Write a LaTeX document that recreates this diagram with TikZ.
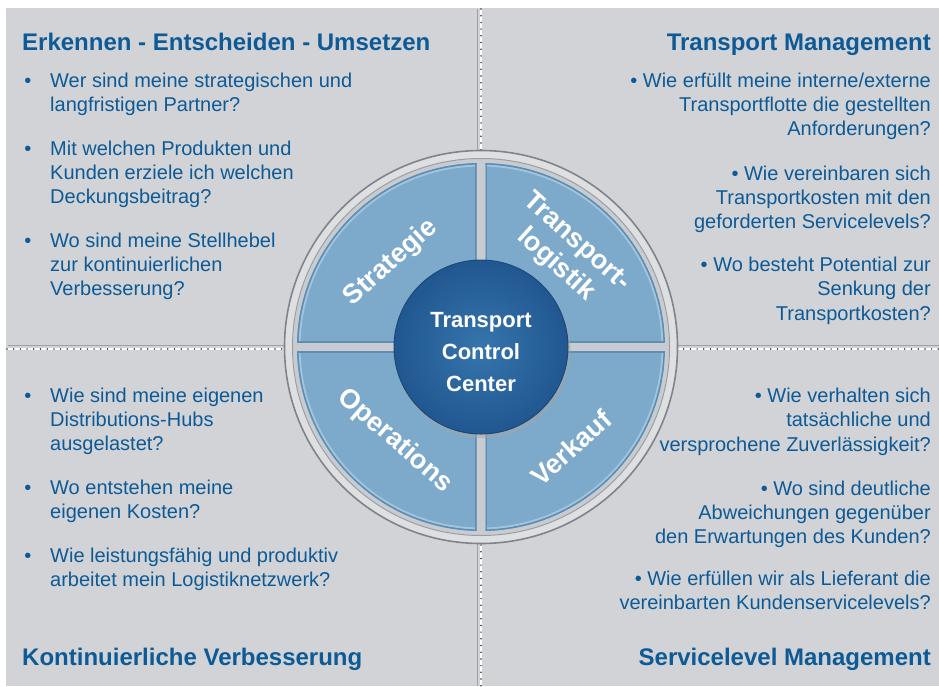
\documentclass[tikz,border=0pt]{standalone}
\usepackage{fontspec}
\setmainfont{Liberation Sans}
\definecolor{bg}{HTML}{D1D3D6}
\definecolor{txtblue}{HTML}{0D5A96}
\definecolor{segblue}{HTML}{7DAACA}
\definecolor{segedge}{HTML}{5E8EB3}
\definecolor{seglight}{HTML}{A2C4DC}
\definecolor{ringlight}{HTML}{DDDFE1}
\definecolor{ringdark}{HTML}{80848A}
\definecolor{gapgray}{HTML}{C8CCD0}
\definecolor{coreinner}{HTML}{3675AD}
\definecolor{coreouter}{HTML}{215790}
\definecolor{coreedge}{HTML}{1B4A7A}
\definecolor{sepgray}{HTML}{9EA1A5}
\begin{document}
\begin{tikzpicture}[x=1pt,y=-1pt,
  body/.style={font=\fontsize{20}{24}\selectfont, text=txtblue, inner sep=0pt},
  bodyL/.style={body, anchor=base west},
  bodyR/.style={body, anchor=base east},
  bul/.style={body, anchor=base},
  head/.style={font=\fontsize{24}{28}\selectfont\bfseries, text=txtblue, inner sep=0pt},
  seglabel/.style={font=\fontsize{27}{30}\selectfont\bfseries, text=white, inner sep=0pt},
  corelabel/.style={font=\fontsize{22}{32}\selectfont\bfseries, text=white, inner sep=0pt, align=center},
  sepline/.style={sepgray, line width=1.5pt},
  dotbase/.style={white, line width=2.4pt},
  dots/.style={black!80, line width=1.7pt, dash pattern=on 0pt off 6.7pt, line cap=round}
]
\def\cx{481}
\def\cy{347}
\useasboundingbox (0,0) rectangle (939,686);
\fill[white] (0,0) rectangle (939,686);
\fill[bg] (6,8) rectangle (939,686);
% separators
\coordinate (hl) at (7,349);
\coordinate (hr) at (939,349);
\coordinate (vt) at (481,9);
\coordinate (vb) at (481,686);
\draw[sepline] (8,345.3) -- (939,345.3);
\draw[sepline] (477.5,9) -- (477.5,686);
\draw[dotbase] (hl) -- (hr);
\draw[dotbase] (vt) -- (vb);
\draw[dots] (hl) -- (hr);
\draw[dots] (vt) -- (vb);
% ring
\fill[ringlight] (\cx,\cy) circle (197pt);
\draw[ringdark, line width=1.6pt] (\cx,\cy) circle (196.5pt);
\fill[gapgray] (\cx,\cy) circle (188pt);
\draw[ringdark!80, line width=1pt] (\cx,\cy) circle (188.5pt);
% segments
\foreach \sx/\sy in {1/1,1/-1,-1/1,-1/-1}{
  \begin{scope}
    \clip ({\cx+4.5*\sx},{\cy+4.5*\sy}) rectangle ({\cx+200*\sx},{\cy+200*\sy});
    \clip (\cx,\cy) circle (184pt);
    \fill[segblue] (\cx,\cy) circle (184pt);
    \draw[seglight, line width=2pt] (\cx,\cy) circle (181.5pt);
    \draw[segedge, line width=3pt] (\cx,\cy) circle (184pt);
    \draw[segedge, line width=3.6pt] ({\cx+4.5*\sx},{\cy+4.5*\sy}) rectangle ({\cx+200*\sx},{\cy+200*\sy});
  \end{scope}
}
% core
\fill[black!35, opacity=0.5] (\cx+1.5,\cy+3) circle (88pt);
\shade[inner color=coreinner, outer color=coreouter] (\cx,\cy) circle (87pt);
\draw[coreedge, line width=1pt] (\cx,\cy) circle (87pt);
\node[corelabel] (core) at (\cx,352) {Transport\\Control\\Center};
% segment labels
\node[seglabel, rotate=42] (strat) at (391,263) {Strategie};
\node[seglabel, rotate=-42, align=center, font=\fontsize{27}{31}\selectfont\bfseries] (tlog) at (566,254) {Transport-\\logistik};
\node[seglabel, rotate=-41] (oper) at (395,441) {Operations};
\node[seglabel, rotate=42] (verk) at (571,448) {Verkauf};
% headings
\node[head, anchor=base west] (h1) at (22,50) {Erkennen - Entscheiden - Umsetzen};
\node[head, anchor=base east] (h2) at (931,50) {Transport Management};
\node[head, anchor=base west] (h3) at (22,665) {Kontinuierliche Verbesserung};
\node[head, anchor=base east] (h4) at (931,665) {Servicelevel Management};
% top left
\foreach \y/\t [count=\i] in {87/{Wer sind meine strategischen und},111/{langfristigen Partner?},155/{Mit welchen Produkten und},179/{Kunden erziele ich welchen},203/{Deckungsbeitrag?},247/{Wo sind meine Stellhebel},271/{zur kontinuierlichen},295/{Verbesserung?}}
  \node[bodyL] (tl\i) at (50,\y) {\t};
\foreach \y [count=\i] in {87,155,247}
  \node[bul] (tlb\i) at (28,\y) {•};
% top right
\foreach \y/\t [count=\i] in {87/{• Wie erfüllt meine interne/externe},111/{Transportflotte die gestellten},135/{Anforderungen?},180/{• Wie vereinbaren sich},204/{Transportkosten mit den},228/{geforderten Servicelevels?},271/{• Wo besteht Potential zur},295/{Senkung der},320/{Transportkosten?}}
  \node[bodyR] (tr\i) at (931,\y) {\t};
% bottom left
\foreach \y/\t [count=\i] in {402/{Wie sind meine eigenen},426/{Distributions-Hubs},450/{ausgelastet?},494/{Wo entstehen meine},518/{eigenen Kosten?},562/{Wie leistungsfähig und produktiv},586/{arbeitet mein Logistiknetzwerk?}}
  \node[bodyL] (bl\i) at (50,\y) {\t};
\foreach \y [count=\i] in {402,494,562}
  \node[bul] (blb\i) at (28,\y) {•};
% bottom right
\foreach \y/\t [count=\i] in {402/{• Wie verhalten sich},426/{tatsächliche und},451/{versprochene Zuverlässigkeit?},495/{• Wo sind deutliche},519/{Abweichungen gegenüber},543/{den Erwartungen des Kunden?},585/{• Wie erfüllen wir als Lieferant die},609/{vereinbarten Kundenservicelevels?}}
  \node[bodyR] (br\i) at (931,\y) {\t};
\end{tikzpicture}
\end{document}
